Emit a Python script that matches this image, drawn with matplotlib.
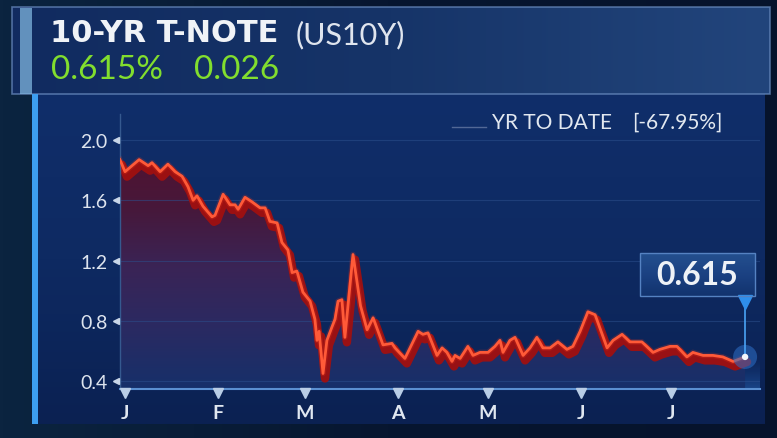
import numpy as np
import matplotlib
matplotlib.use("Agg")
import matplotlib.pyplot as plt
from matplotlib.colors import LinearSegmentedColormap
from matplotlib.patches import Rectangle, Polygon, Circle
import matplotlib.transforms as mtrans

# ---------------- data ----------------
days = [-1.7, 0, 4.7, 7.7, 9, 11.7, 14.3, 16.7, 19, 21, 22.7, 24, 26, 29, 30,
        32.7, 35, 36.7, 37.7, 40, 42.3, 45, 46.7, 48.3, 50.7, 52.3, 54.3, 55.7,
        57.3, 59.3, 61.7, 63.3, 64, 64.7, 66, 67.3, 69, 70, 71, 72.3, 73.3, 76,
        78.5, 80.7, 82.7, 86, 89, 90, 93.3, 97.7, 99.3, 101, 104, 105.7, 107.3,
        109, 110, 111.7, 114.3, 116, 118.3, 121, 123.3, 125, 126, 128.3, 130,
        132.7, 135, 137.3, 139.3, 141.7, 144.3, 147.3, 149.3, 151.7, 154.3,
        156.7, 160.7, 162.7, 165.7, 168.3, 172.3, 176, 178.3, 181.7, 184, 187.3,
        189.3, 192.7, 196, 199.3, 202.7, 206.7]
yields = [1.87, 1.79, 1.87, 1.83, 1.85, 1.79, 1.84, 1.79, 1.76, 1.69, 1.60, 1.63,
          1.56, 1.49, 1.50, 1.64, 1.57, 1.57, 1.54, 1.62, 1.59, 1.55, 1.55, 1.46,
          1.45, 1.32, 1.27, 1.12, 1.13, 0.99, 0.93, 0.81, 0.67, 0.73, 0.45, 0.67,
          0.76, 0.81, 0.93, 0.94, 0.69, 1.24, 0.90, 0.74, 0.82, 0.64, 0.65, 0.62,
          0.55, 0.73, 0.71, 0.72, 0.57, 0.62, 0.59, 0.53, 0.57, 0.55, 0.63, 0.57,
          0.59, 0.59, 0.63, 0.67, 0.59, 0.67, 0.69, 0.57, 0.62, 0.69, 0.62, 0.62,
          0.66, 0.61, 0.63, 0.73, 0.86, 0.84, 0.62, 0.67, 0.71, 0.66, 0.66, 0.59,
          0.61, 0.63, 0.63, 0.56, 0.59, 0.57, 0.57, 0.56, 0.53, 0.56]
month_days = [0, 31, 60, 91, 121, 152, 182]
month_labels = ["J", "F", "M", "A", "M", "J", "J"]
yticks = [0.4, 0.8, 1.2, 1.6, 2.0]
ytick_labels = ["0.4", "0.8", "1.2", "1.6", "2.0"]
title_main = "10-YR T-NOTE"
title_sym = "(US10Y)"
last_pct = "0.615%"
last_chg = "0.026"
ytd_label = "YR TO DATE"
ytd_value = "[-67.95%]"
last_label = "0.615"

# ---------------- figure ----------------
W, H = 777, 439
FONT = "Lato"
fig = plt.figure(figsize=(W / 100, H / 100), dpi=100)
fig.patch.set_facecolor("#061228")

bg = fig.add_axes([0, 0, 1, 1])
bg.set_xlim(0, W)
bg.set_ylim(H, 0)
bg.axis("off")

# outer background gradient
g = np.linspace(0, 1, 256).reshape(1, -1)
outer_cmap = LinearSegmentedColormap.from_list("o", ["#0b2440", "#071630", "#06132c"])
bg.imshow(g, extent=[0, W, H, 0], cmap=outer_cmap, aspect="auto", zorder=0)

# header
head_cmap = LinearSegmentedColormap.from_list("h", ["#112b60", "#163468", "#22457c"])
bg.imshow(g, extent=[12, 770, 95, 8], cmap=head_cmap, aspect="auto", zorder=1)
bg.add_patch(Rectangle((12, 8), 758, 87, fc="none", ec="#6a8cc0", lw=1.2, alpha=0.7, zorder=2))
bg.add_patch(Rectangle((20, 9), 12, 86, fc="#86bde6", ec="none", alpha=0.7, zorder=2))

# panel
gv = np.linspace(0, 1, 256).reshape(-1, 1)
panel_cmap = LinearSegmentedColormap.from_list("p", ["#102e6a", "#0e2a62", "#0b2152"])
bg.imshow(gv, extent=[38, 765, 425, 95], cmap=panel_cmap, aspect="auto", zorder=1)
bg.add_patch(Rectangle((32, 95), 6, 330, fc="#3d9ef0", ec="none", zorder=2))
# blue glow above baseline
glow_cmap = LinearSegmentedColormap.from_list("gl", [(0.12, 0.32, 0.62, 0.0), (0.15, 0.38, 0.70, 0.55)])
bg.imshow(gv, extent=[120, 760, 390, 360], cmap=glow_cmap, aspect="auto", zorder=2)

# header texts
bg.text(50, 34, title_main, fontsize=22, fontweight="bold", color="#f0f3f7",
        va="center", ha="left", family="DejaVu Sans", zorder=5)
bg.text(296, 35, title_sym, fontsize=22, fontweight="normal", color="#dfe5ee",
        va="center", ha="left", family=FONT, zorder=5)
bg.text(51, 70, last_pct, fontsize=24, color="#82de2e", va="center", ha="left",
        family=FONT, zorder=5)
bg.text(194, 70, last_chg, fontsize=24, color="#82de2e", va="center", ha="left",
        family=FONT, zorder=5)
bg.plot([452, 486], [128, 128], color="#7f91b5", lw=1, alpha=0.6, zorder=5)
bg.text(492, 123, ytd_label, fontsize=15, color="#e2e8f0", va="center", ha="left",
        family=FONT, zorder=5)
bg.text(632, 123, ytd_value, fontsize=15, color="#e2e8f0", va="center", ha="left",
        family=FONT, zorder=5)

# ---------------- main axes ----------------
ax = fig.add_axes([120 / W, (H - 390) / H, 640 / W, 275 / H])
ax.set_facecolor("none")
xmin, xmax = -1.67, 211.67
ymin, ymax = 0.347, 2.173

x = np.array(days)
y = np.array(yields)

# area gradient clipped under the line
verts = [(x[0], ymin)] + list(zip(x, y)) + [(x[-1], ymin)]
poly = Polygon(verts, closed=True, fc="none", ec="none", transform=ax.transData)
ax.add_patch(poly)
area_cmap = LinearSegmentedColormap.from_list(
    "a", ["#16306a", "#2a2a62", "#3a2456", "#47183a", "#521230"])
grad = np.linspace(0, 1, 256).reshape(-1, 1)
im = ax.imshow(grad, extent=[xmin, xmax, ymin, 1.95], origin="lower",
               cmap=area_cmap, aspect="auto", zorder=1)
im.set_clip_path(poly)

# dark red ribbon (3D effect)
rib_t = mtrans.offset_copy(ax.transData, fig=fig, x=2, y=-5, units="dots")
ax.plot(x, y, color="#a01010", lw=6, transform=rib_t, solid_joinstyle="round",
        solid_capstyle="round", zorder=2, alpha=0.95)
# glow + line
ax.plot(x, y, color="#ff3a1e", lw=4, alpha=0.2, zorder=3, solid_joinstyle="round")
ax.plot(x, y, color="#ff5a38", lw=2.0, zorder=4, solid_joinstyle="round")

ax.set_xlim(xmin, xmax)
ax.set_ylim(ymin, ymax)

for s in ["top", "right"]:
    ax.spines[s].set_visible(False)
ax.spines["left"].set_color("#35598f")
ax.spines["left"].set_linewidth(1)
ax.spines["bottom"].set_color("#5a8fd0")
ax.spines["bottom"].set_linewidth(1.5)

ax.set_yticks(yticks)
ax.set_yticklabels(ytick_labels, fontsize=14, color="#dde4ee", family=FONT)
ax.tick_params(axis="y", length=0, pad=9)
ax.set_xticks(month_days)
ax.set_xticklabels(month_labels, fontsize=14, color="#e0e7f0", family=FONT,
                   fontweight="bold")
ax.tick_params(axis="x", length=0, pad=11)
ax.grid(axis="y", color="#2c4f8c", lw=0.8, alpha=0.55)
ax.grid(axis="x", visible=False)

# tick triangles
ax.plot([-4 / 640] * len(yticks), yticks, ls="none", marker="<", ms=5,
        color="#c9d6e8", transform=ax.get_yaxis_transform(), clip_on=False, zorder=6)
ax.plot(month_days, [-4 / 275] * len(month_days), ls="none", marker="v", ms=7,
        color="#b9cde6", transform=ax.get_xaxis_transform(), clip_on=False, zorder=6)

# ---------------- last value callout ----------------
fig.canvas.draw()
px, py = ax.transData.transform((x[-1], y[-1]))
ov = fig.add_axes([0, 0, 1, 1])
ov.set_xlim(0, W)
ov.set_ylim(0, H)
ov.axis("off")
ov.set_facecolor("none")
ov.add_patch(Circle((px, py), 12, fc="#2d6fc8", ec="none", alpha=0.55, zorder=1))
ov.plot([px, px], [py, py + 52], color="#4aa3f5", lw=1.2, zorder=2)
ov.plot([px], [py + 55], marker="v", ms=10, color="#2f8fec", zorder=3)
ov.add_patch(Circle((px, py), 3.2, fc="#f4f6fa", ec="none", zorder=4))
bx0, by0 = px - 105, py + 61
box_cmap = LinearSegmentedColormap.from_list("b", ["#12336e", "#1b4182", "#24508f"])
ov.imshow(gv, extent=[bx0, bx0 + 115, by0, by0 + 43], origin="lower",
          cmap=box_cmap, aspect="auto", zorder=2)
ov.add_patch(Rectangle((bx0, by0), 115, 43, fc="none", ec="#5582c2", lw=1, zorder=3))
ov.text(bx0 + 57, by0 + 21, last_label, fontsize=23, fontweight="bold",
        color="#eef2f7", ha="center", va="center", family=FONT, zorder=4)
ov.set_xlim(0, W)
ov.set_ylim(0, H)

fig.savefig("out.png", dpi=100, facecolor=fig.get_facecolor())
